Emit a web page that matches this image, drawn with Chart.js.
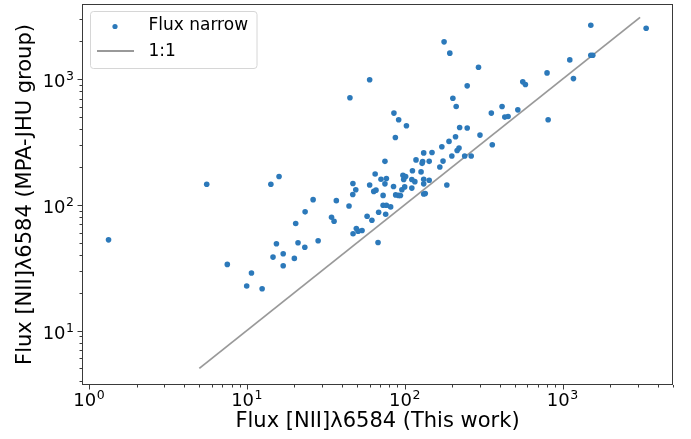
<!DOCTYPE html>
<html>
<head>
<meta charset="utf-8">
<script src="https://cdn.jsdelivr.net/npm/chart.js@4"></script>
<style>
html,body{margin:0;padding:0;background:#fff;}
#wrap{width:691px;height:439px;}
</style>
</head>
<body>
<div id="wrap"><canvas id="c" width="691" height="439"></canvas></div>
<script>
// ---- data ----
const fluxThisWork = [
  1.33, 5.57, 14.2, 16.0, 23.4, 20.4, 15.4, 21.1, 23.3, 17.0, 14.65, 20.0, 17.0, 7.52, 10.7, 9.98, 12.5,
  45, 60, 249, 202, 212, 354, 359, 85.5, 91.6, 102.6, 87.3, 223, 249, 300, 210, 191, 172, 221, 215,
  149, 132, 199, 240, 264, 118, 175, 130, 129, 143, 75, 167, 112, 127, 65, 97.5, 101.4, 98.6, 70.8,
  76.6, 111, 116, 132, 143, 75, 47, 49, 60, 85, 100, 132, 185, 63.7, 65.8, 111, 96, 46.9, 73, 87.7,
  91.6, 94, 132, 135, 36.9, 26.3, 44.4, 73, 76.6, 81.5, 34.4, 35.7, 68.4, 75.8, 57.8, 62, 49.4, 50.7,
  53.7, 47.1, 28.3, 67.8, 177.7, 193.2, 293.6, 3388, 1511, 1511, 1555, 1112, 1173, 798, 811, 560, 582,
  414, 431, 452, 521
];
const fluxMPA = [
  52.7, 146, 146, 168, 88, 71, 49, 50, 46, 40.8, 38.4, 37.5, 32.8, 33.6, 28.7, 22.6, 21.5,
  711, 990, 885, 706, 606, 537, 301, 537, 475, 426, 344, 413, 409, 359, 348, 320, 290, 283, 271,
  261, 259, 245, 245, 245, 228, 223, 221, 214, 222, 222, 200, 187, 183, 176, 172, 168, 159, 160,
  162, 159, 153, 160, 157, 147, 148, 132, 144, 140, 139, 147, 144, 128, 131, 136, 132, 121, 119, 120,
  119, 118.6, 122, 123, 108, 110, 98, 99.3, 99.3, 96.4, 79.8, 74.1, 87.3, 84.2, 81.3, 75.5, 64.9, 61.8,
  62.6, 58.9, 51.8, 50.2, 1981, 1610, 1245, 2540, 2684, 1550, 1550, 1423, 1011, 1122, 475, 952, 906,
  607, 499, 505, 570
];
const oneToOne = [5, 3100];
const xMajorTicks = [1, 10, 100, 1000];
const xTickExponents = ['0', '1', '2', '3'];
const yMajorTicks = [10, 100, 1000];
const yTickExponents = ['1', '2', '3'];
const seriesLabels = ['Flux narrow', '1:1'];
const xTitle = 'Flux [NII]\u03bb6584 (This work)';
const yTitle = 'Flux [NII]\u03bb6584 (MPA-JHU group)';
// --------------------------------------

const FONT = "'DejaVu Sans', sans-serif";
const DOT = '#2c79ba';
const LINE = 'rgba(128,128,128,0.8)';

const scatterData = fluxThisWork.map((x, i) => ({x: x, y: fluxMPA[i]}));
const lineData = oneToOne.map(v => ({x: v, y: v}));

function drawPow(ctx, base, exp, x, y, align) {
  ctx.font = '18px ' + FONT;
  const wb = ctx.measureText(base).width;
  ctx.font = '12.5px ' + FONT;
  const we = ctx.measureText(exp).width;
  const total = wb + we + 0.5;
  let left;
  if (align === 'center') left = x - total / 2;
  else left = x - total;
  ctx.textAlign = 'left';
  ctx.textBaseline = 'alphabetic';
  ctx.fillStyle = '#000';
  ctx.font = '18px ' + FONT;
  ctx.fillText(base, left, y);
  ctx.font = '12.5px ' + FONT;
  ctx.fillText(exp, left + wb + 0.5, y - 7);
}

const axesPlugin = {
  id: 'mplAxes',
  afterDraw(chart) {
    const ctx = chart.ctx;
    const a = chart.chartArea;
    const xs = chart.scales.x, ys = chart.scales.y;
    ctx.save();
    // frame
    ctx.strokeStyle = '#3a3a3a';
    ctx.lineWidth = 1;
    ctx.strokeRect(a.left + 0.5, a.top + 0.5, a.right - a.left - 1, a.bottom - a.top - 1);
    // ticks
    ctx.strokeStyle = '#3a3a3a';
    ctx.lineWidth = 1;
    const xmin = xs.min, xmax = xs.max, ymin = ys.min, ymax = ys.max;
    for (let n = Math.floor(Math.log10(xmin)); n <= Math.ceil(Math.log10(xmax)); n++) {
      for (let k = 1; k <= 9; k++) {
        const v = k * Math.pow(10, n);
        if (v < xmin || v > xmax) continue;
        const px = Math.round(xs.getPixelForValue(v)) + 0.5;
        const len = k === 1 ? 4.5 : 2.5;
        ctx.beginPath();
        ctx.moveTo(px, a.bottom);
        ctx.lineTo(px, a.bottom + len);
        ctx.stroke();
      }
    }
    for (let n = Math.floor(Math.log10(ymin)); n <= Math.ceil(Math.log10(ymax)); n++) {
      for (let k = 1; k <= 9; k++) {
        const v = k * Math.pow(10, n);
        if (v < ymin || v > ymax) continue;
        const py = Math.round(ys.getPixelForValue(v)) + 0.5;
        const len = k === 1 ? 4.5 : 2.5;
        ctx.beginPath();
        ctx.moveTo(a.left, py);
        ctx.lineTo(a.left - len, py);
        ctx.stroke();
      }
    }
    // tick labels
    xMajorTicks.forEach((v, i) => {
      const px = xs.getPixelForValue(v);
      drawPow(ctx, '10', xTickExponents[i], px, a.bottom + 21, 'center');
    });
    yMajorTicks.forEach((v, i) => {
      const py = ys.getPixelForValue(v);
      drawPow(ctx, '10', yTickExponents[i], a.left - 8, py + 8, 'right');
    });
    // axis titles
    ctx.fillStyle = '#000';
    ctx.font = '21px ' + FONT;
    ctx.textAlign = 'center';
    ctx.textBaseline = 'alphabetic';
    ctx.fillText(xTitle, (a.left + a.right) / 2, 427);
    ctx.save();
    ctx.translate(31, (a.top + a.bottom) / 2);
    ctx.rotate(-Math.PI / 2);
    ctx.fillText(yTitle, 0, 0);
    ctx.restore();
    // legend
    const lx = 90.5, ly = 11.5, lw = 166.5, lh = 57;
    ctx.beginPath();
    if (ctx.roundRect) ctx.roundRect(lx, ly, lw, lh, 3); else ctx.rect(lx, ly, lw, lh);
    ctx.fillStyle = 'rgba(255,255,255,0.8)';
    ctx.fill();
    ctx.strokeStyle = '#d6d6d6';
    ctx.lineWidth = 1;
    ctx.stroke();
    ctx.beginPath();
    ctx.arc(115, 26.5, 2.6, 0, Math.PI * 2);
    ctx.fillStyle = DOT;
    ctx.fill();
    ctx.beginPath();
    ctx.moveTo(97, 51);
    ctx.lineTo(134, 51);
    ctx.strokeStyle = LINE;
    ctx.lineWidth = 1.8;
    ctx.stroke();
    ctx.fillStyle = '#000';
    ctx.font = '17px ' + FONT;
    ctx.textAlign = 'left';
    ctx.textBaseline = 'middle';
    ctx.fillText(seriesLabels[0], 148.5, 25.5);
    ctx.fillText(seriesLabels[1], 148.5, 52);
    ctx.restore();
  }
};

new Chart(document.getElementById('c'), {
  data: {
    datasets: [
      {
        type: 'scatter',
        label: seriesLabels[0],
        data: scatterData,
        pointRadius: 2.8,
        pointBackgroundColor: DOT,
        pointBorderWidth: 0,
        order: 1
      },
      {
        type: 'line',
        label: seriesLabels[1],
        data: lineData,
        borderColor: LINE,
        borderWidth: 1.8,
        pointRadius: 0,
        fill: false,
        order: 2
      }
    ]
  },
  options: {
    responsive: false,
    animation: false,
    devicePixelRatio: 1,
    layout: { padding: { left: 82, right: 18, top: 4, bottom: 54 } },
    scales: {
      x: { type: 'logarithmic', min: 0.903, max: 5012, display: false },
      y: { type: 'logarithmic', min: 3.69, max: 3963, display: false }
    },
    plugins: { legend: { display: false }, tooltip: { enabled: false } }
  },
  plugins: [axesPlugin]
});
</script>
</body>
</html>
